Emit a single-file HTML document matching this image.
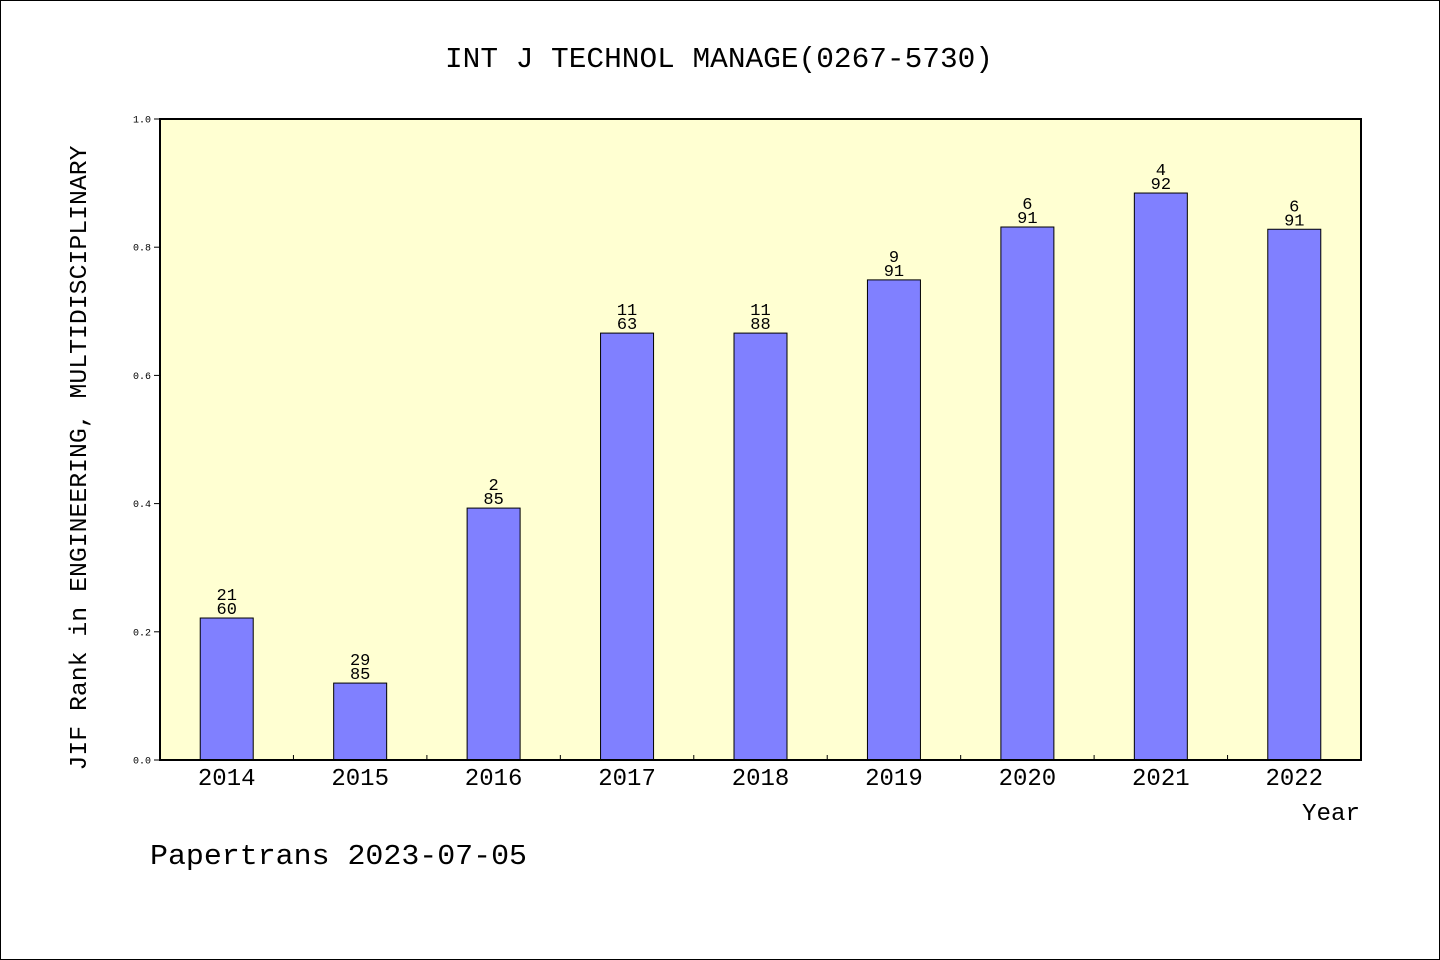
<!DOCTYPE html>
<html><head><meta charset="utf-8"><style>
html,body{margin:0;padding:0;background:#fff}
svg{display:block;font-family:"Liberation Mono","WenQuanYi Zen Hei",monospace}
</style></head><body>
<svg id="chart" width="1440" height="960" viewBox="0 0 1440 960" xmlns="http://www.w3.org/2000/svg">
<rect x="0.5" y="0.5" width="1439" height="959" fill="#fff" stroke="#000"/>
<text x="445" y="67" font-size="29" textLength="548" lengthAdjust="spacingAndGlyphs">INT J TECHNOL MANAGE(0267-5730)</text>
<rect x="160" y="119" width="1201" height="641" fill="#ffffd2"/>
<g id="bars"></g>
<g id="axes"></g>
<rect x="160" y="119" width="1201" height="641" fill="none" stroke="#000" stroke-width="2"/>
<text transform="translate(86,458) rotate(-90)" text-anchor="middle" font-size="24" textLength="625" lengthAdjust="spacingAndGlyphs">JIF Rank in ENGINEERING, MULTIDISCIPLINARY</text>
<text x="1360" y="820" text-anchor="end" font-size="24" textLength="58" lengthAdjust="spacingAndGlyphs">Year</text>
<text x="150" y="864" font-size="29" textLength="377" lengthAdjust="spacingAndGlyphs">Papertrans 2023-07-05</text>
</svg>
<script>
const categories = ["2014","2015","2016","2017","2018","2019","2020","2021","2022"];
const values = [0.2215,0.120,0.393,0.666,0.666,0.749,0.8315,0.8845,0.828];
const ranks = ["21","29","2","11","11","9","6","4","6"];
const totals = ["60","85","85","63","88","91","91","92","91"];
const yTicks = ["0.0","0.2","0.4","0.6","0.8","1.0"];
const NS="http://www.w3.org/2000/svg";
const X0=160,X1=1361,Y0=760,Y1=119;
const bw=(X1-X0)/categories.length;
const xc=i=>X0+bw*(i+0.5);
const ys=v=>Y0-(Y0-Y1)*v;
function mk(tag,attrs,parent,txt){const e=document.createElementNS(NS,tag);for(const k in attrs)e.setAttribute(k,attrs[k]);if(txt!==undefined)e.textContent=txt;parent.appendChild(e);return e;}
const bars=document.getElementById('bars'),axes=document.getElementById('axes');
categories.forEach((c,i)=>{
  const y=ys(values[i]);
  const r=mk('rect',{x:xc(i)-26.5,y:y,width:53,height:Y0-y,fill:'#8080ff',stroke:'#000','stroke-width':1},bars);
  
  
  const t1=mk('text',{x:xc(i),y:y-18,'text-anchor':'middle','font-size':17},bars,ranks[i]);
  
  
  const t2=mk('text',{x:xc(i),y:y-4,'text-anchor':'middle','font-size':17},bars,totals[i]);
  
  
  const xl=mk('text',{x:xc(i),y:785,'text-anchor':'middle','font-size':24},axes,c);
  
  
  if(i>0){const tk=mk('line',{x1:X0+bw*i,x2:X0+bw*i,y1:Y0,y2:Y0-5,stroke:'#000'},axes);
  
  }
});
yTicks.forEach(t=>{
  const y=ys(parseFloat(t));
  const l=mk('line',{x1:X0-6,x2:X0,y1:y,y2:y,stroke:'#000'},axes);
  
  
  const tx=mk('text',{x:X0-9,y:y+3.5,'text-anchor':'end','font-size':10},axes,t);
  
  
});
</script>
</body></html>
